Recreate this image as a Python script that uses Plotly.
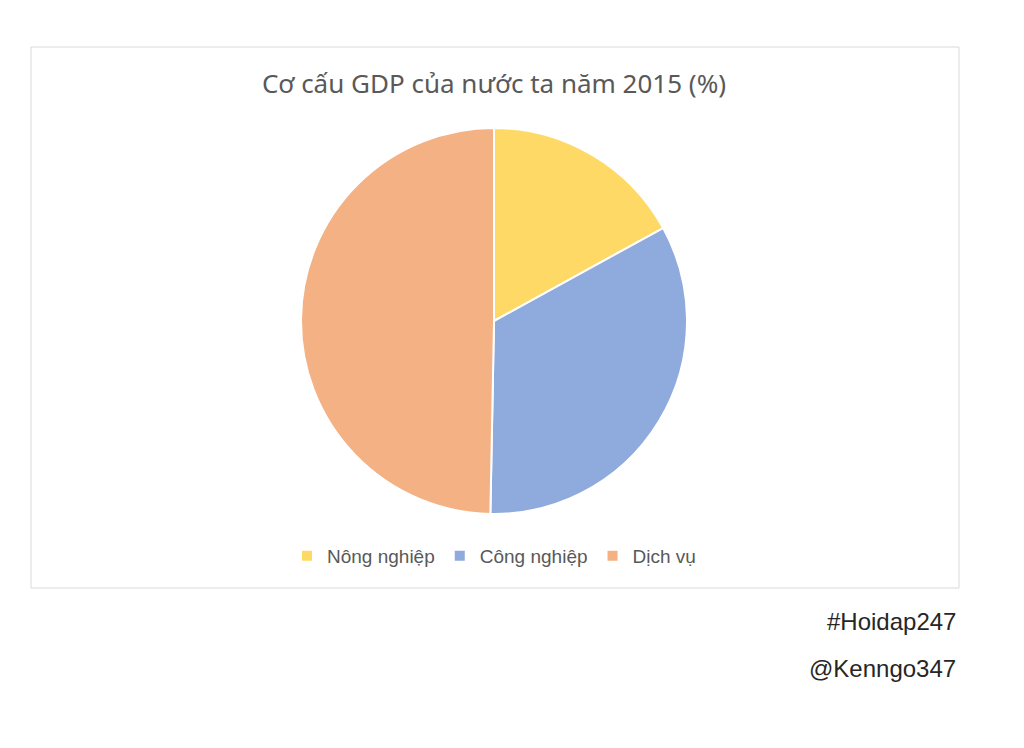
import plotly.graph_objects as go

labels = ["Nông nghiệp", "Công nghiệp", "Dịch vụ"]
values = [17.0, 33.3, 49.7]
colors = ["#FFD966", "#8FAADC", "#F4B183"]
title_text = "Cơ cấu GDP của nước ta năm 2015 (%)"
tags = ["#Hoidap247", "@Kenngo347"]

# page body has an 8px margin; figure is sized/positioned to compensate
OFF = 8
W, H = 1024 - OFF, 748 - OFF

def px(x):
    return (x - OFF) / W

def py(y):
    return 1 - (y - OFF) / H

fig = go.Figure(go.Pie(
    labels=labels,
    values=values,
    sort=False,
    direction="clockwise",
    rotation=0,
    marker=dict(colors=colors, line=dict(color="white", width=2)),
    textinfo="none",
    hoverinfo="label+percent",
    domain=dict(x=[px(301), px(687)], y=[py(514), py(128)]),
))

fig.update_layout(
    width=W, height=H,
    margin=dict(l=0, r=0, t=0, b=0),
    paper_bgcolor="white",
    plot_bgcolor="white",
    title=dict(text=title_text, x=px(494), xanchor="center", y=py(84), yanchor="middle",
               font=dict(family="Noto Sans", size=26, color="#595959")),
    showlegend=True,
    legend=dict(orientation="h", x=px(494), xanchor="center", y=py(556), yanchor="middle",
                font=dict(family="Liberation Sans", size=19, color="#595959"),
                itemwidth=30, traceorder="normal"),
    shapes=[dict(type="rect", xref="paper", yref="paper",
                 x0=px(31), x1=px(959), y0=py(588), y1=py(47),
                 line=dict(color="#D9D9D9", width=1), fillcolor="rgba(0,0,0,0)", layer="below")],
    annotations=[
        dict(text=tags[0], xref="paper", yref="paper", x=px(958), y=py(621), xanchor="right", yanchor="middle",
             showarrow=False, font=dict(family="Liberation Sans", size=24, color="#262626")),
        dict(text=tags[1], xref="paper", yref="paper", x=px(958), y=py(668), xanchor="right", yanchor="middle",
             showarrow=False, font=dict(family="Liberation Sans", size=24, color="#262626")),
    ],
)

fig.write_html("out.html")
